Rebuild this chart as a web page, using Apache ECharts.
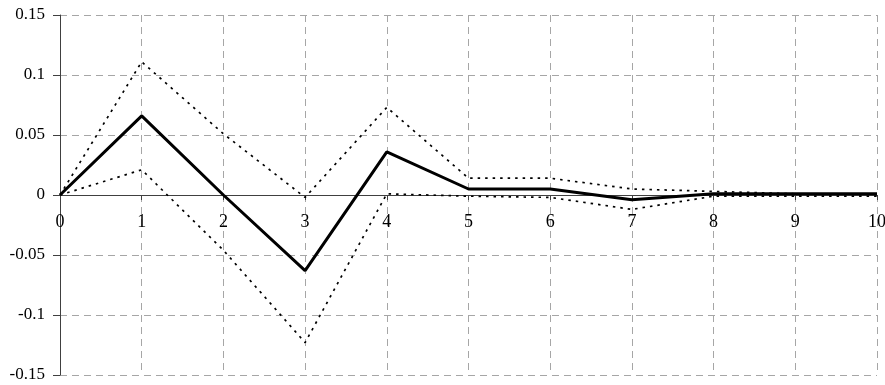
<!DOCTYPE html>
<html>
<head>
<meta charset="utf-8">
<script src="https://cdn.jsdelivr.net/npm/echarts@6/dist/echarts.min.js"></script>
<style>
  html, body { margin: 0; padding: 0; background: #fff; }
  #chart { width: 885px; height: 385px; }
</style>
</head>
<body>
<div id="chart"></div>
<script>
// Impulse response over 10 periods with its confidence band
const periods = [0, 1, 2, 3, 4, 5, 6, 7, 8, 9, 10];
const response = [0, 0.066, 0, -0.063, 0.036, 0.005, 0.005, -0.004, 0.001, 0.001, 0.001];
const upperBand = [0, 0.111, 0.051, -0.002, 0.073, 0.014, 0.014, 0.005, 0.003, 0.001, 0.001];
const lowerBand = [0, 0.021, -0.046, -0.123, 0.001, -0.001, -0.002, -0.012, -0.001, -0.001, -0.001];

const pairs = (vals) => periods.map((p, i) => [p, vals[i]]);

const font = "'Liberation Serif', 'Times New Roman', serif";
const gridLine = { show: true, lineStyle: { color: '#a6a6a6', width: 1, type: [7, 5] } };
const dotted = { color: '#000', width: 1.7, type: [2.5, 5] };

const grid = { left: 60, right: 8, top: 15, bottom: 10 };
const plotHeight = 385 - grid.top - grid.bottom;
const yMin = -0.15, yMax = 0.15;
// shift the horizontal axis up from the bottom edge to the zero level
const zeroOffset = -plotHeight * (0 - yMin) / (yMax - yMin);

const chart = echarts.init(document.getElementById('chart'));
chart.setOption({
  animation: false,
  backgroundColor: '#fff',
  grid: Object.assign({ containLabel: false, outerBoundsMode: 'none' }, grid),
  xAxis: {
    type: 'value', min: 0, max: 10, interval: 1,
    position: 'bottom', offset: zeroOffset,
    axisLine: { show: true, onZero: false, lineStyle: { color: '#404040', width: 1 } },
    axisTick: { show: true, length: 5, lineStyle: { color: '#404040' } },
    axisLabel: { fontFamily: font, fontSize: 18, color: '#000', margin: 18 },
    splitLine: gridLine
  },
  yAxis: {
    type: 'value', min: yMin, max: yMax, interval: 0.05,
    axisLine: { show: true, lineStyle: { color: '#404040', width: 1 } },
    axisTick: { show: true, length: 7, lineStyle: { color: '#404040' } },
    axisLabel: { fontFamily: font, fontSize: 17, color: '#000', margin: 15 },
    splitLine: gridLine
  },
  series: [
    { type: 'line', data: pairs(upperBand), showSymbol: false, lineStyle: dotted, z: 3 },
    { type: 'line', data: pairs(lowerBand), showSymbol: false, lineStyle: dotted, z: 3 },
    { type: 'line', data: pairs(response), showSymbol: false,
      lineStyle: { color: '#000', width: 3, type: 'solid' }, z: 4 }
  ]
});
</script>
</body>
</html>
